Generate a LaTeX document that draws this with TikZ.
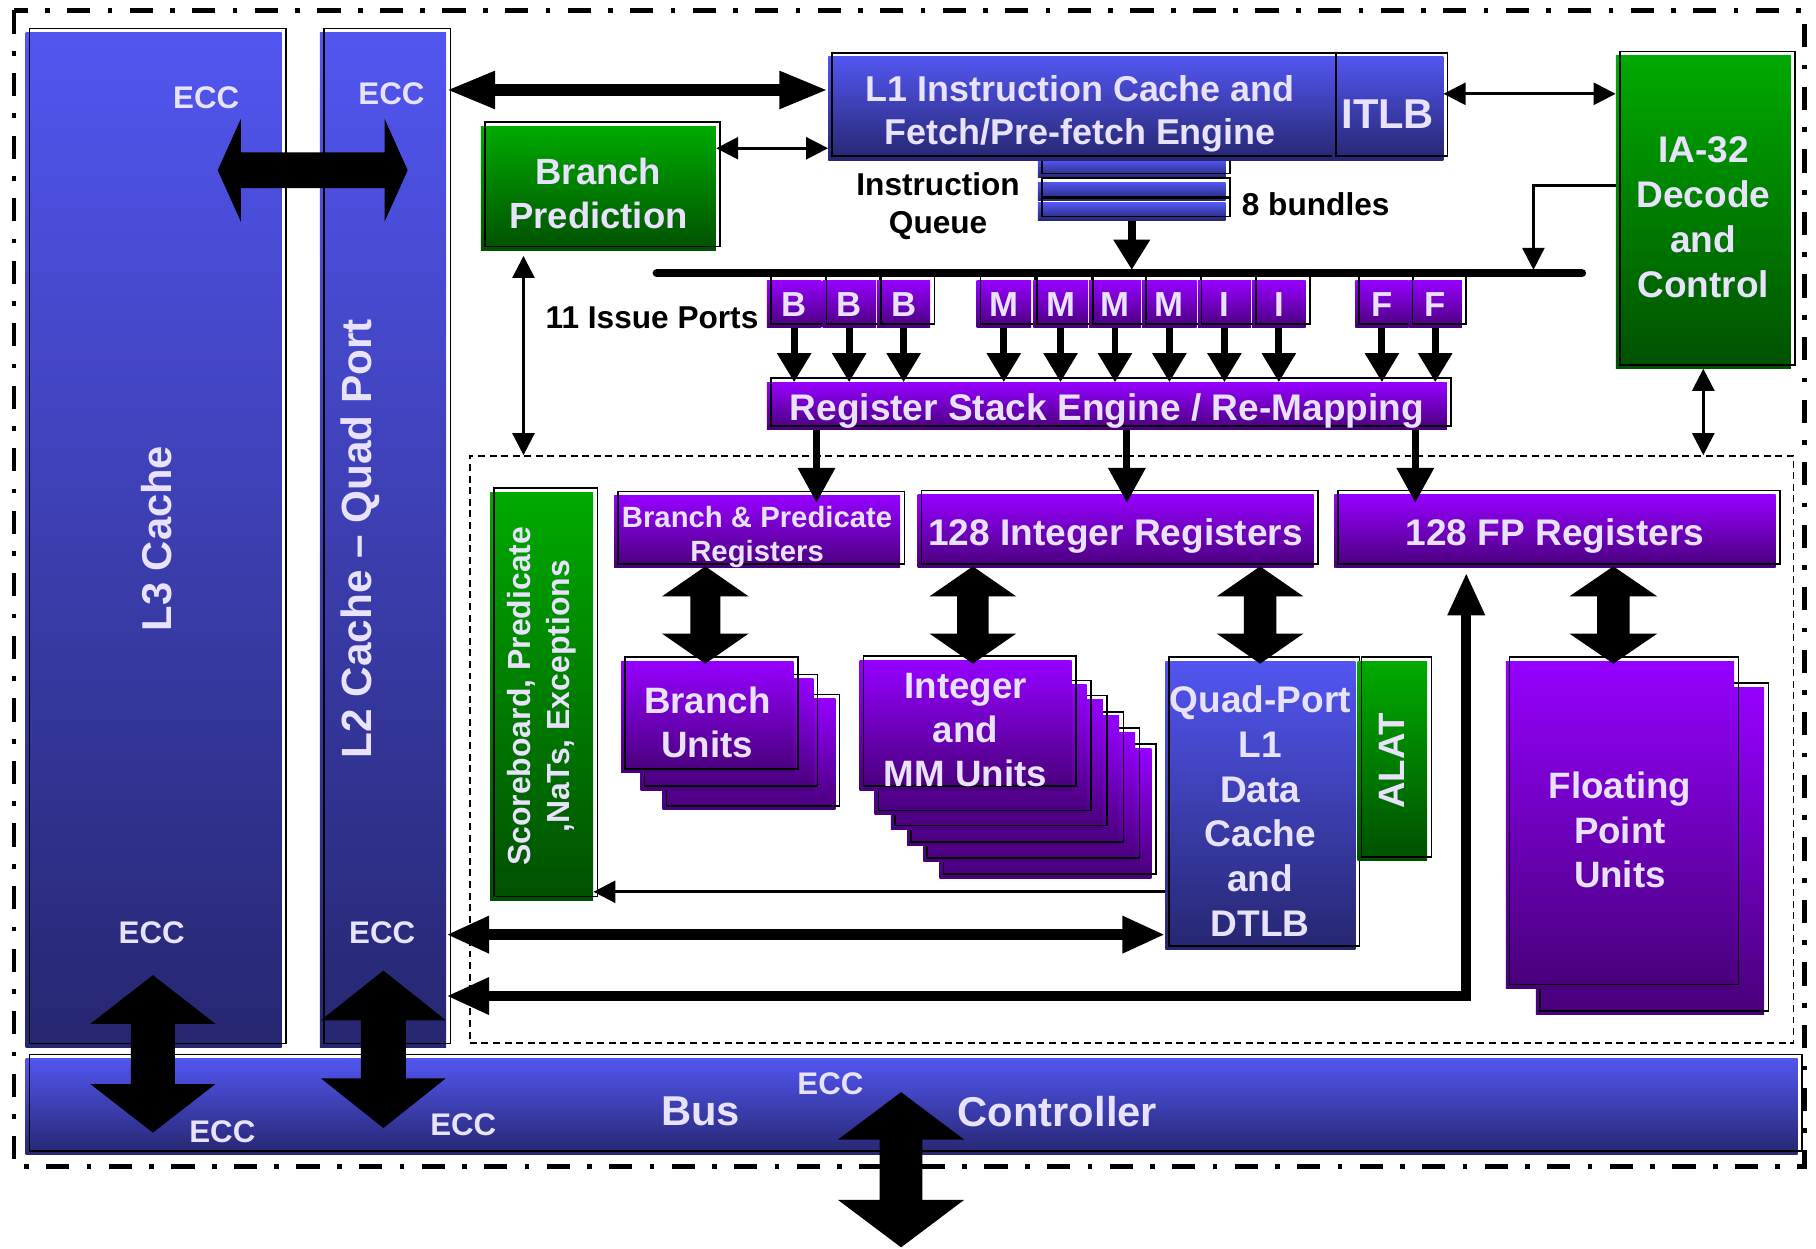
\documentclass[tikz,border=0pt]{standalone}
\usepackage{fontspec}
\setmainfont{Liberation Sans}
\usetikzlibrary{arrows.meta,calc}
\definecolor{txt}{RGB}{232,226,252}
\definecolor{blueT}{RGB}{82,86,240}
\definecolor{blueB}{RGB}{38,38,112}
\definecolor{purpT}{RGB}{150,0,255}
\definecolor{purpB}{RGB}{72,0,122}
\definecolor{greenT}{RGB}{0,170,0}
\definecolor{greenB}{RGB}{0,80,0}
\newcommand\myfs[2]{\fontsize{#1}{#2}\selectfont\bfseries}
\tikzset{
 outl/.style={draw=black,line width=1.4pt},
 lbl/.style={text=txt,font=\bfseries,align=center,inner sep=0pt},
 blk/.style={text=black,align=center,inner sep=0pt},
 bluebox/.style={top color=blueT,bottom color=blueB},
 purpbox/.style={top color=purpT,bottom color=purpB},
 greenbox/.style={top color=greenT,bottom color=greenB},
 porttxt/.style={font=\myfs{30}{34},yshift=4pt},
 thinarr/.style={line width=2.3pt,-{Triangle[length=19pt,width=19pt]}},
 thindbl/.style={line width=2.3pt,{Triangle[length=19pt,width=19pt]}-{Triangle[length=19pt,width=19pt]}},
 portarr/.style={line width=6pt,-{Triangle[length=25pt,width=28pt]}},
 rsearr/.style={line width=6pt,-{Triangle[length=30pt,width=31pt]}},
 thickdbl/.style={line width=9pt,{Triangle[length=37pt,width=30pt]}-{Triangle[length=37pt,width=30pt]}},
}
% name, x1, y1, x2, y2, fill style, font style, text
\newcommand\mybox[8]{%
 \node[inner sep=0pt,#6,anchor=north west,minimum width={(#4-#2)*1pt},minimum height={(#5-#3)*1pt}] (#1) at (#2,#3) {};
 \draw[outl] ([shift={(3.5pt,3.5pt)}]#1.south west) rectangle ([shift={(3.5pt,3.5pt)}]#1.north east);
 \node[lbl,#7] (#1t) at ([yshift=-4.5pt]#1.center) {#8};}
\newcommand\blockV[5]{%
 \fill let \p1=(#1), \p2=(#2) in
 (\x1,\y1) -- ({\x1+0.5*#4pt},{\y1-#5pt}) -- ({\x1+0.5*#3pt},{\y1-#5pt})
 -- ({\x1+0.5*#3pt},{\y2+#5pt}) -- ({\x1+0.5*#4pt},{\y2+#5pt}) -- (\x1,\y2)
 -- ({\x1-0.5*#4pt},{\y2+#5pt}) -- ({\x1-0.5*#3pt},{\y2+#5pt})
 -- ({\x1-0.5*#3pt},{\y1-#5pt}) -- ({\x1-0.5*#4pt},{\y1-#5pt}) -- cycle;}
\newcommand\blockH[5]{%
 \fill let \p1=(#1), \p2=(#2) in
 (\x1,\y1) -- ({\x1+#5pt},{\y1+0.5*#4pt}) -- ({\x1+#5pt},{\y1+0.5*#3pt})
 -- ({\x2-#5pt},{\y1+0.5*#3pt}) -- ({\x2-#5pt},{\y1+0.5*#4pt}) -- (\x2,\y1)
 -- ({\x2-#5pt},{\y1-0.5*#4pt}) -- ({\x2-#5pt},{\y1-0.5*#3pt})
 -- ({\x1+#5pt},{\y1-0.5*#3pt}) -- ({\x1+#5pt},{\y1-0.5*#4pt}) -- cycle;}
\begin{document}
\begin{tikzpicture}[x=1pt,y=-1pt]
\useasboundingbox (0,0) rectangle (1568,1078);
% outer border
\draw[line width=4pt,dash pattern=on 20pt off 15pt on 4pt off 15pt] (12,9) rectangle (1558,1007);
% core dashed region
\node[draw,line width=1.4pt,dash pattern=on 6pt off 4pt,anchor=north west,minimum width=1143pt,minimum height=507pt,inner sep=0pt] (core) at (405,393) {};
% caches and bus
\mybox{l3}{22}{28}{243}{904}{bluebox}{}{}
\node[lbl,rotate=90,font=\myfs{36}{40}] (l3x) at (135,465) {L3 Cache};
\mybox{l2}{276}{28}{385}{904}{bluebox}{}{}
\node[lbl,rotate=90,font=\myfs{36.5}{40}] (l2x) at (311,465) {L2 Cache -- Quad Port};
\mybox{bus}{22}{914}{1552}{997}{bluebox}{}{}
\node[lbl,font=\myfs{36}{40}] (busx) at (605,960) {Bus};
\node[lbl,font=\myfs{36}{40}] (ctrl) at (913,960) {Controller};
% front end
\mybox{q1}{896}{138}{1058}{153}{bluebox}{}{}
\mybox{q2}{896}{157}{1058}{173}{bluebox}{}{}
\mybox{q3}{896}{175}{1058}{190}{bluebox}{}{}
\mybox{l1}{715}{49}{1150}{138}{bluebox}{font=\myfs{31}{37}}{L1 Instruction Cache and\\Fetch/Pre-fetch Engine}
\mybox{itlb}{1150}{49}{1246}{138}{bluebox}{font=\myfs{36}{40}}{ITLB}
\mybox{bp}{415}{109}{618}{216}{greenbox}{font=\myfs{31.5}{38}}{Branch\\Prediction}
\mybox{ia}{1395}{48}{1546}{318}{greenbox}{font=\myfs{32}{39}}{IA-32\\Decode\\and\\Control}
\node[blk,font=\myfs{27.3}{33}] (iqt) at (810,178) {Instruction\\Queue};
\node[blk,font=\myfs{27.3}{33}] (bund) at (1136,176) {8 bundles};
\node[blk,font=\myfs{27.3}{33}] (ports) at (563,274) {11 Issue Ports};
% issue bus line
\coordinate (bl1) at (567,236);
\coordinate (bl3) at (1366,236);
\coordinate (bustop) at (0,233);
\draw[line width=7pt,line cap=round] (bl1) -- (bl3);
% ports
\mybox{pb1}{662}{242}{709}{283}{purpbox}{porttxt}{B}
\mybox{pb2}{710}{242}{756}{283}{purpbox}{porttxt}{B}
\mybox{pb3}{757}{242}{803}{283}{purpbox}{porttxt}{B}
\mybox{pm1}{843}{242}{890}{283}{purpbox}{porttxt}{M}
\mybox{pm2}{892}{242}{939}{283}{purpbox}{porttxt}{M}
\mybox{pm3}{940}{242}{985}{283}{purpbox}{porttxt}{M}
\mybox{pm4}{986}{242}{1033}{283}{purpbox}{porttxt}{M}
\mybox{pi1}{1034}{242}{1080}{283}{purpbox}{porttxt}{I}
\mybox{pi2}{1081}{242}{1127}{283}{purpbox}{porttxt}{I}
\mybox{pf1}{1170}{242}{1216}{283}{purpbox}{porttxt}{F}
\mybox{pf2}{1216}{242}{1262}{283}{purpbox}{porttxt}{F}
\mybox{rse}{662}{330}{1249}{371}{purpbox}{font=\myfs{32}{36}}{Register Stack Engine / Re-Mapping}
% core blocks
\mybox{sb}{423}{425}{512}{777}{greenbox}{}{}
\node[lbl,rotate=90,font=\myfs{27.6}{33}] (sbx) at (sb.center) {Scoreboard, Predicate\\,NaTs, Exceptions};
\mybox{bpr}{530}{428}{777}{490}{purpbox}{font=\myfs{25.3}{30}}{Branch \& Predicate\\Registers}
\mybox{ir}{792}{427}{1134}{490}{purpbox}{font=\myfs{32}{36}}{128 Integer Registers}
\mybox{fr}{1152}{427}{1533}{490}{purpbox}{font=\myfs{32}{36}}{128 FP Registers}
\mybox{bu3}{572}{603}{721}{699}{purpbox}{}{}
\mybox{bu2}{553}{586}{702}{682}{purpbox}{}{}
\mybox{bu}{536}{571}{685}{667}{purpbox}{font=\myfs{31.7}{38}}{Branch\\Units}
\mybox{im5}{811}{646}{994}{758}{purpbox}{}{}
\mybox{im4}{797}{632}{980}{744}{purpbox}{}{}
\mybox{im3}{783}{618}{966}{730}{purpbox}{}{}
\mybox{im2}{769}{604}{952}{716}{purpbox}{}{}
\mybox{im1}{755}{591}{938}{703}{purpbox}{}{}
\mybox{imm}{742}{570}{925}{682}{purpbox}{font=\myfs{31.7}{38}}{Integer\\and\\MM Units}
\mybox{qp}{1006}{571}{1170}{820}{bluebox}{font=\myfs{32}{38.6}}{Quad-Port\\L1\\Data\\Cache\\and\\DTLB}
\mybox{alat}{1172}{571}{1232}{743}{greenbox}{}{}
\node[lbl,rotate=90,font=\myfs{31.7}{36}] (alatx) at (alat.center) {ALAT};
\mybox{fpu2}{1326}{593}{1523}{876}{purpbox}{}{}
\mybox{fpu}{1300}{571}{1497}{853}{purpbox}{font=\myfs{31.7}{38.5}}{Floating\\Point\\Units}
% ECC labels
\node[lbl,font=\myfs{27}{30}] (e1) at (178,84) {ECC};
\node[lbl,font=\myfs{27}{30}] (e2) at (338,81) {ECC};
\node[lbl,font=\myfs{27}{30}] (e3) at (131,805) {ECC};
\node[lbl,font=\myfs{27}{30}] (e4) at (330,805) {ECC};
\node[lbl,font=\myfs{27}{30}] (e5) at (192,977) {ECC};
\node[lbl,font=\myfs{27}{30}] (e6) at (400,971) {ECC};
\node[lbl,font=\myfs{27}{30}] (e7) at (717,936) {ECC};
% connectors
\path ([yshift=16pt]l1.west) coordinate (a1r);
\draw[line width=10pt,{Triangle[length=42pt,width=30pt]}-{Triangle[length=42pt,width=30pt]}] (l2.east |- a1r) -- (a1r);
\coordinate (b1) at (700,128);
\draw[thindbl] (bp.east |- b1) -- (l1.west |- b1);
\coordinate (b2) at (1300,81);
\draw[thindbl] (itlb.east |- b2) -- (ia.west |- b2);
\coordinate (b3) at (1324,160);
\coordinate (b4) at (1324,233);
\draw[thinarr] (ia.west |- b3) -| (b4);
\draw[line width=6.5pt,-{Triangle[length=26pt,width=30pt]}] (q3.south) -- (q3.south |- bustop);
\foreach \p in {pb1,pb2,pb3,pm1,pm2,pm3,pm4,pi1,pi2,pf1,pf2}
  \draw[portarr] (\p.south) -- (\p.south |- rse.north);
\coordinate (r1) at (705,434);
\coordinate (r2) at (973,434);
\coordinate (r3) at (1222,434);
\foreach \r in {r1,r2,r3} \draw[rsearr] (rse.south -| \r) -- (\r);
\coordinate (k0) at (452,221);
\draw[thindbl] (k0) -- (k0 |- core.north);
\draw[thindbl] (ia.south) -- (ia.south |- core.north);
\coordinate (d1) at (700,807);
\draw[thickdbl] (l2.east |- d1) -- (qp.west |- d1);
\coordinate (d2) at (700,770);
\draw[thinarr] (qp.west |- d2) -- (sb.east |- d2);
\coordinate (d3) at (1266,860);
\draw[thickdbl] (l2.east |- d3) -- (d3) -- ([yshift=-4pt]d3 |- fr.south);
% block arrows
\blockH{188,147}{352,147}{31}{89}{20}
\blockV{609,489}{609,573}{26}{75}{26}
\blockV{840,489}{840,573}{27}{75}{26}
\blockV{1088,489}{1088,573}{28}{75}{26}
\blockV{1393,489}{1393,573}{28}{76}{26}
\blockV{132,842}{132,978}{38}{108}{42}
\blockV{331,838}{331,974}{39}{108}{43}
\blockV{778,943}{778,1077}{37}{109}{41}
\end{tikzpicture}
\end{document}
